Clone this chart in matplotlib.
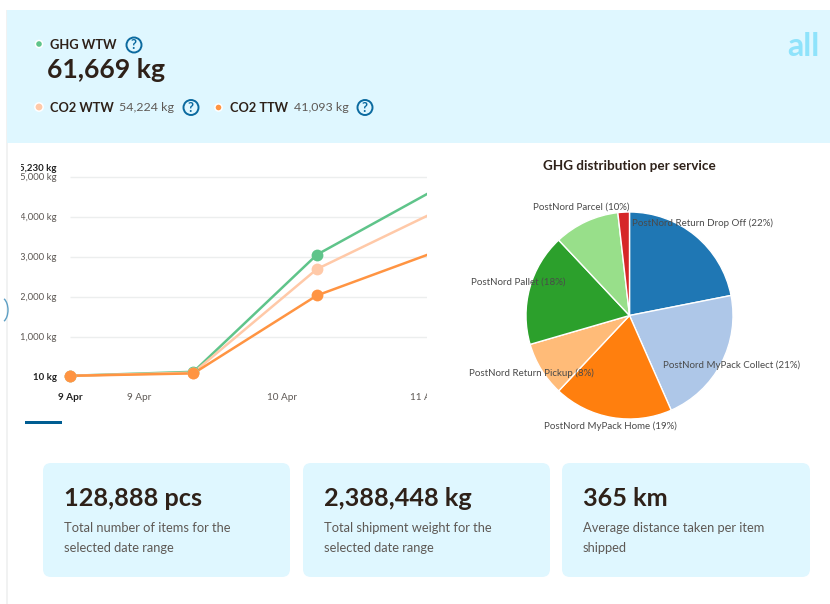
import matplotlib
matplotlib.use("Agg")
import matplotlib.pyplot as plt
from matplotlib.patches import Rectangle, FancyBboxPatch, Circle, Arc
from matplotlib.transforms import Bbox

plt.rcParams['font.family'] = ['Lato', 'DejaVu Sans']

# ---- data ----
point_days = [-0.483, 0.381, 1.245, 2.108]
ghg_wtw = [30, 130, 3060, 4760]
co2_wtw = [30, 110, 2700, 4190]
co2_ttw = [30, 90, 2040, 3175]
y_grid = [1000, 2000, 3000, 4000, 5000]
y_grid_labels = ['1,000 kg', '2,000 kg', '3,000 kg', '4,000 kg', '5,000 kg']
y_extreme = [10, 5230]
y_extreme_labels = ['10 kg', '5,230 kg']
x_tick_days = [-0.483, 0, 1, 2]
x_tick_labels = ['9 Apr', '9 Apr', '10 Apr', '11 Apr']

pie_values = [21.9, 21.5, 18.6, 8.5, 17.5, 10.2, 1.8]
pie_colors = ['#1f77b4', '#aec7e8', '#ff7f0e', '#ffbb78', '#2ca02c', '#98df8a', '#d62728']
pie_labels = ['PostNord Return Drop Off (22%)', 'PostNord MyPack Collect (21%)',
              'PostNord MyPack Home (19%)', 'PostNord Return Pickup (8%)',
              'PostNord Pallet (18%)', 'PostNord Parcel (10%)']
pie_label_px = [(702, 223), (732, 365), (610, 426), (531, 373), (518, 282), (581, 207)]

card_values = ['128,888 pcs', '2,388,448 kg', '365 km']
card_texts = ['Total number of items for the\nselected date range',
              'Total shipment weight for the\nselected date range',
              'Average distance taken per item\nshipped']

# ---- colours ----
PANEL = '#dff7ff'
DARK = '#2e2119'
GRAY = '#5e5955'
GREEN = '#5fc48a'
PEACH = '#ffc9a8'
ORANGE = '#ff9442'
BLUE = '#0b6a9f'

W, H = 830, 604
fig = plt.figure(figsize=(W / 100, H / 100), dpi=100, facecolor='white')


def px_axes(x0, y0, x1, y1, **kw):
    return fig.add_axes([x0 / W, 1 - y1 / H, (x1 - x0) / W, (y1 - y0) / H], **kw)


# background layer in pixel coordinates
bg = px_axes(0, 0, W, H, zorder=0)
bg.set_xlim(0, W)
bg.set_ylim(H, 0)
bg.axis('off')
bg.add_patch(Rectangle((5.5, 10), 2, H - 10, color='#f1f2f2', lw=0))
bg.add_patch(Rectangle((7, 10), W - 7, 133, color=PANEL, lw=0))
bg.add_patch(Arc((0, 310), 16, 26, theta1=-70, theta2=70, color='#5d9fc4', lw=1))
bg.add_patch(Rectangle((25, 421), 37, 3, color='#005d92', lw=0))


def dot(x, y, r, c):
    bg.add_patch(Circle((x, y), r + 1.5, color='white', lw=0))
    bg.add_patch(Circle((x, y), r, color=c, lw=0))


def helpicon(x, y):
    bg.add_patch(Circle((x, y), 7.5, fc='none', ec=BLUE, lw=1.4))
    bg.text(x, y + 0.3, '?', color=BLUE, fontsize=9.5, fontweight='bold', ha='center', va='center')


dot(39, 44, 2.8, GREEN)
bg.text(49.5, 45, 'GHG WTW', color=DARK, fontsize=9.3, fontweight='bold', va='center')
helpicon(134, 45)
bg.text(47, 70, '61,669 kg', color=DARK, fontsize=19.2, fontweight='bold', va='center')
dot(39, 107, 3.4, PEACH)
bg.text(49.5, 107.5, 'CO2 WTW', color=DARK, fontsize=9.2, fontweight='bold', va='center')
bg.text(119, 107.5, '54,224 kg', color=GRAY, fontsize=8.9, va='center')
helpicon(191, 107.5)
dot(218.5, 107.5, 2.8, ORANGE)
bg.text(229.5, 107.5, 'CO2 TTW', color=DARK, fontsize=9.2, fontweight='bold', va='center')
bg.text(294, 107.5, '41,093 kg', color=GRAY, fontsize=8.9, va='center')
helpicon(365, 107.5)
bg.text(803, 46, 'all', color='#8fe3fb', fontsize=23, fontweight='bold', ha='center', va='center')

for i, (x0, x1) in enumerate([(43, 290), (303, 550), (562, 810)]):
    bg.add_patch(FancyBboxPatch((x0 + 8, 463 + 8), x1 - x0 - 16, 114 - 16,
                                boxstyle='round,pad=8,rounding_size=8', fc=PANEL, ec='none'))
    bg.text(x0 + 21, 498, card_values[i], color=DARK, fontsize=18.2, fontweight='bold', va='center')
    bg.text(x0 + 21, 537.5, card_texts[i], color=GRAY, fontsize=9.3, va='center', linespacing=1.8)

# line chart: 40 px per 1000 kg, zero at y=377; one day = 143 px, day 0 at x=139
ax = px_axes(60, 165, 427, 385, zorder=2)
ax.patch.set_alpha(0)
ax.set_xlim((60 - 139) / 143, (427 - 139) / 143)
ax.set_ylim((377 - 385) * 25, (377 - 165) * 25)
for s in ax.spines.values():
    s.set_visible(False)
ax.hlines(y_grid, point_days[0], ax.get_xlim()[1], color='#eceeee', lw=1, zorder=1)
for values, color in [(ghg_wtw, GREEN), (co2_wtw, PEACH), (co2_ttw, ORANGE)]:
    ax.plot(point_days[:3], values[:3], 'o', color=color, ms=8.5, mew=0, clip_on=False, zorder=3)
    ax.plot(point_days, values, '-', color=color, lw=1.8, zorder=2, solid_capstyle='round')
ax.set_yticks(y_extreme + y_grid, y_extreme_labels + y_grid_labels)
ax.tick_params(axis='y', length=0, pad=2.2, labelsize=6.9, labelcolor=GRAY)
ax.set_xticks(x_tick_days, x_tick_labels)
ax.tick_params(axis='x', length=0, pad=5.5, labelsize=7.2, labelcolor=GRAY)
clip = Bbox([[21, 0], [427, H]])
for lab in ax.get_yticklabels() + ax.get_xticklabels():
    lab.set_clip_on(True)
    lab.set_clip_box(clip)
for lab in [ax.get_yticklabels()[0], ax.get_yticklabels()[1], ax.get_xticklabels()[0]]:
    lab.set_fontweight('bold')
    lab.set_color('#222222')

# pie chart
R = 103.5
cx, cy = 629.5, 315.5
pie_ax = px_axes(cx - R, cy - R, cx + R, cy + R, zorder=2)
pie_ax.pie(pie_values, colors=pie_colors, startangle=90, counterclock=False, radius=1,
           wedgeprops={'edgecolor': 'white', 'linewidth': 1})
pie_ax.set_xlim(-1, 1)
pie_ax.set_ylim(-1, 1)

# text above the pie
top = px_axes(0, 0, W, H, zorder=3)
top.set_xlim(0, W)
top.set_ylim(H, 0)
top.axis('off')
top.patch.set_alpha(0)
top.text(629, 166, 'GHG distribution per service', color=DARK, fontsize=9.7, fontweight='bold',
         ha='center', va='center')
for label, (x, y) in zip(pie_labels, pie_label_px):
    top.text(x, y, label, color='#4a4a4a', fontsize=7, ha='center', va='center')

fig.savefig('out.png', dpi=100, facecolor='white')
